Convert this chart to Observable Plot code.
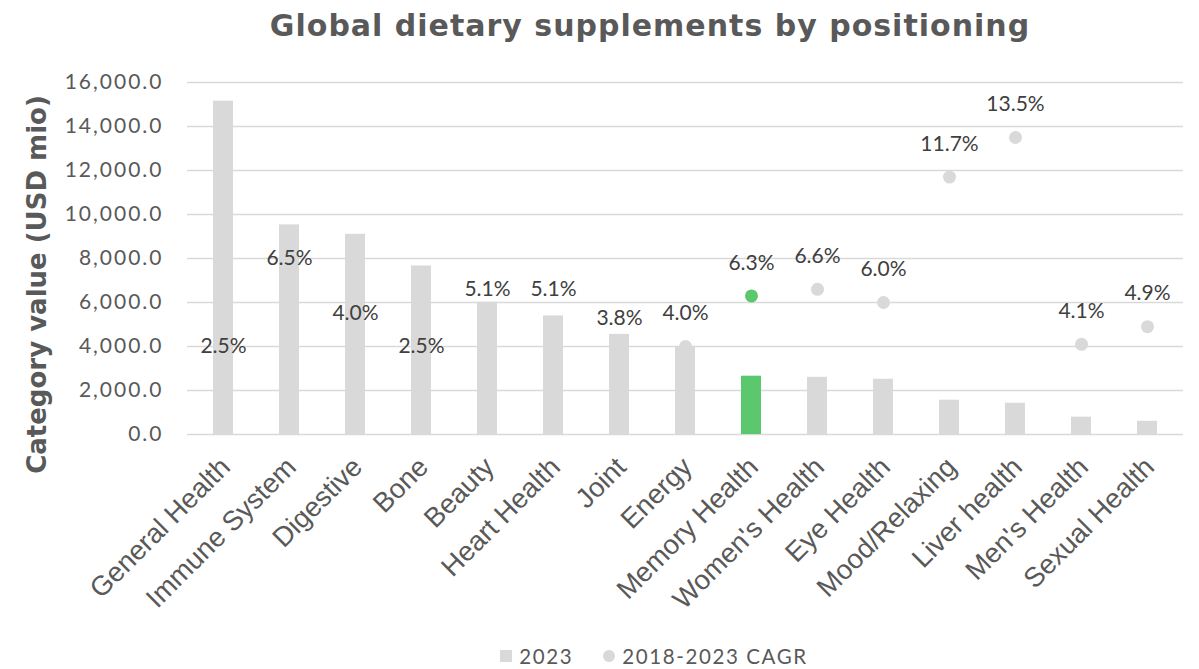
<!DOCTYPE html>
<html>
<head>
<meta charset="utf-8">
<script src="https://cdn.jsdelivr.net/npm/d3@7"></script>
<script src="https://cdn.jsdelivr.net/npm/@observablehq/plot@0.6"></script>
<style>
  html, body { margin: 0; padding: 0; background: #fff; }
  #wrap { width: 1199px; height: 669px; position: relative; }
  #title { height: 55px; line-height: 52px; text-align: center; box-sizing: border-box; padding-left: 101px; font-family: "DejaVu Sans", sans-serif; font-weight: 700; font-size: 30px; letter-spacing: 1px; color: #595959; }
  #legend { position: absolute; top: 642px; left: 0; width: 1199px; height: 24px; line-height: 24px; box-sizing: border-box; padding-left: 109px; text-align: center; font-family: Lato, sans-serif; font-size: 20.5px; letter-spacing: 1.6px; color: #595959; }
  #legend span.item { display: inline-flex; align-items: center; margin: 0 15px; }
  #legend .sq { display: inline-block; width: 12px; height: 12px; background: #d9d9d9; margin-right: 7px; }
  #legend .ci { display: inline-block; width: 12px; height: 12px; border-radius: 50%; background: #d9d9d9; margin-right: 7px; }
  svg { overflow: visible; }
</style>
</head>
<body>
<div id="wrap">
  <div id="title">Global dietary supplements by positioning</div>
  <div id="chart"></div>
  <div id="legend"><span class="item"><span class="sq"></span>2023</span><span class="item"><span class="ci"></span>2018-2023 CAGR</span></div>
</div>
<script>
const categories = ["General Health", "Immune System", "Digestive", "Bone", "Beauty", "Heart Health", "Joint", "Energy", "Memory Health", "Women's Health", "Eye Health", "Mood/Relaxing", "Liver health", "Men's Health", "Sexual Health"];
const value2023 = [15150, 9530, 9100, 7660, 6010, 5390, 4550, 3980, 2650, 2600, 2510, 1560, 1420, 790, 600];
const cagr2018_2023 = [2.5, 6.5, 4.0, 2.5, 5.1, 5.1, 3.8, 4.0, 6.3, 6.6, 6.0, 11.7, 13.5, 4.1, 4.9];
const highlighted = "Memory Health";
const yTicks = [0, 2000, 4000, 6000, 8000, 10000, 12000, 14000, 16000];

const grey = "#d9d9d9";
const green = "#5bc86e";
const rows = categories.map((c, i) => ({cat: c, value: value2023[i], cagr: cagr2018_2023[i]}));

const chart = Plot.plot({
  width: 1199,
  height: 580,
  marginTop: 27,
  marginLeft: 187,
  marginRight: 16,
  marginBottom: 201,
  style: {background: "transparent", overflow: "visible"},
  x: {domain: categories, paddingInner: 0.7, paddingOuter: 0.35},
  y: {domain: [0, 16000], nice: false},
  marks: [
    Plot.gridY(yTicks, {stroke: "#d9d9d9", strokeOpacity: 1, strokeWidth: 1.5}),
    Plot.dot(rows, {x: "cat", y: d => d.cagr * 1000, r: 6.5, fill: d => d.cat === highlighted ? green : grey, stroke: "none"}),
    Plot.barY(rows, {x: "cat", y: "value", fill: d => d.cat === highlighted ? green : grey}),
    Plot.text(rows, {x: "cat", y: d => d.cagr * 1000, text: d => d.cagr.toFixed(1) + "%", dy: -33, fontSize: 21, fontFamily: "Lato, sans-serif", fill: "#404040", style: "letter-spacing:0.5px"}),
    Plot.axisY({ticks: yTicks, tickFormat: d3.format(",.1f"), tickSize: 0, tickPadding: 24, label: null, fontSize: 21, fontFamily: "Lato, sans-serif", fill: "#595959"}),
    Plot.axisX({tickRotate: -45, tickSize: 0, tickPadding: 28, dx: 2, label: null, fontSize: 27.5, fontFamily: "'Liberation Sans', Arial, sans-serif", fill: "#595959"}),
    Plot.text(["Category value (USD mio)"], {frameAnchor: "left", textAnchor: "middle", rotate: -90, dx: -150, dy: 26, fontSize: 26, fontWeight: "bold", fontFamily: "'DejaVu Sans', sans-serif", fill: "#595959"})
  ]
});
document.getElementById("chart").appendChild(chart);
// widen y tick labels a little to match the reference's wide digits
chart.querySelectorAll("g[aria-label='y-axis tick label'] text").forEach(t => t.setAttribute("letter-spacing", "2"));
</script>
</body>
</html>
